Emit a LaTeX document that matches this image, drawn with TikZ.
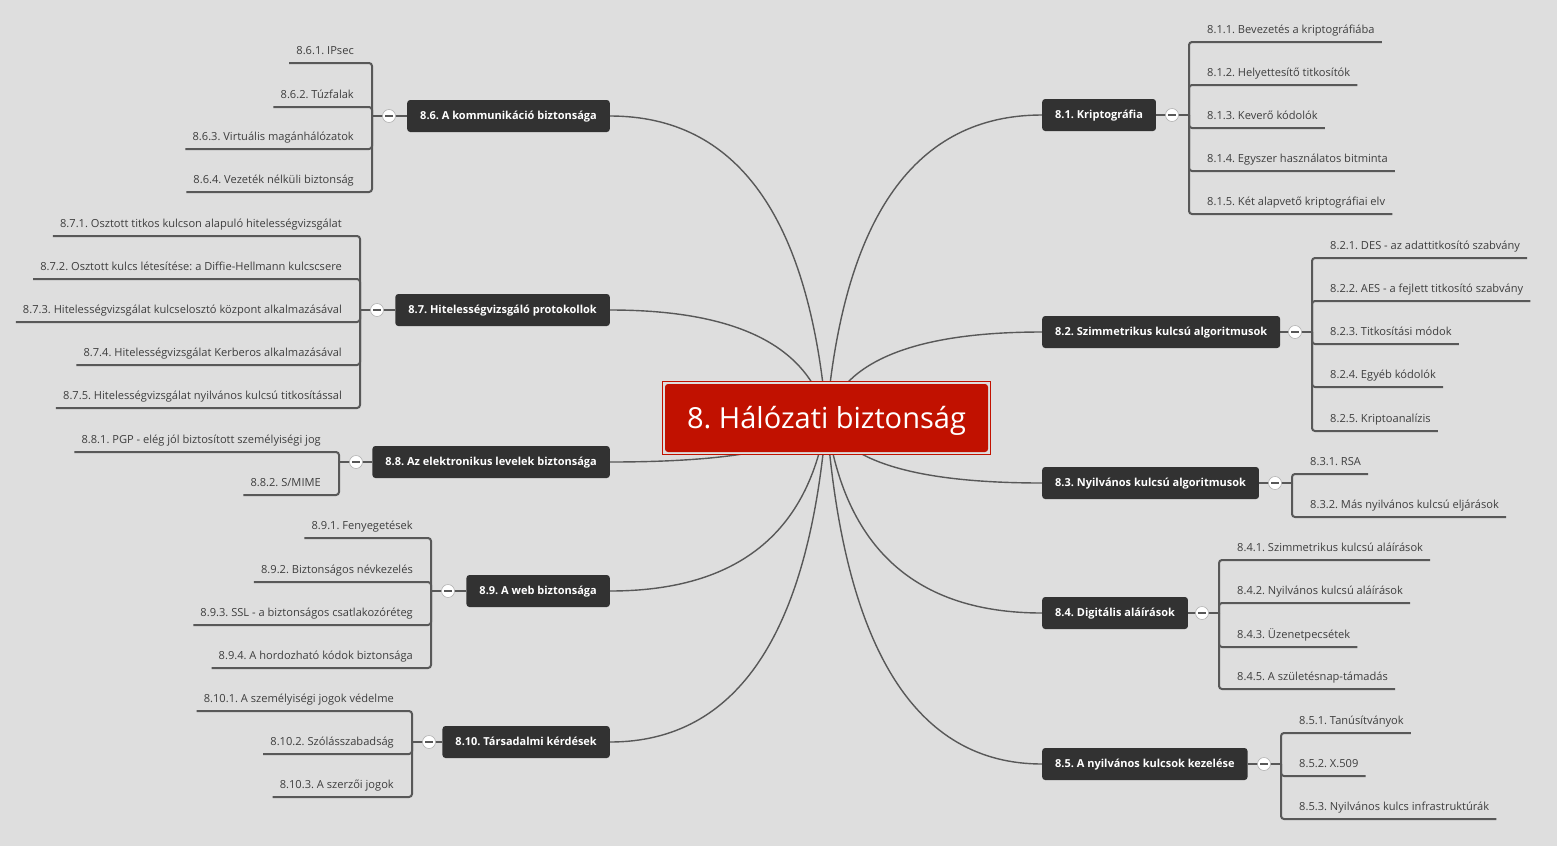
\documentclass[tikz,border=0pt]{standalone}
\usepackage{fontspec}
\setmainfont{Open Sans}
\usetikzlibrary{calc,backgrounds}
\frenchspacing
\definecolor{bg}{RGB}{222,222,222}
\definecolor{boxc}{RGB}{50,50,50}
\definecolor{linec}{RGB}{88,88,88}
\definecolor{leaftext}{RGB}{62,62,62}
\definecolor{redc}{RGB}{193,17,0}
\tikzset{
  branch/.style={fill=boxc, rounded corners=3pt, text=white, inner xsep=13pt, inner ysep=0pt,
    minimum height=32pt, text height=7.9pt, text depth=0pt,
    font=\frenchspacing\bfseries\fontsize{11.0}{13}\selectfont},
  leaf/.style={inner sep=0pt, text=leaftext, font=\frenchspacing\fontsize{11.1}{13}\selectfont},
  bracketline/.style={draw=linec, line width=2pt, rounded corners=3pt},
  stem/.style={draw=linec, line width=2.6pt},
  curveline/.style={draw=linec, line width=1.4pt},
  toggle/.style={circle, fill=white, draw=gray!60, line width=0.6pt, minimum size=13pt, inner sep=0pt,
    path picture={\draw[linec, line width=1.4pt]
      ([xshift=-3.6pt]path picture bounding box.center) -- ([xshift=3.6pt]path picture bounding box.center);}},
  centralbox/.style={fill=redc, rounded corners=3pt, text=white, minimum width=323pt, minimum height=68pt,
    inner sep=0pt, text height=21pt, text depth=0pt, font=\frenchspacing\fontsize{29}{34}\selectfont},
  centralframe/.style={draw=redc, line width=1pt, fill=bg, minimum width=328pt, minimum height=73pt, inner sep=0pt},
}
\newcommand\bcurve[2]{%
  \coordinate (bq) at ($(c.center)!0.12!(#1.#2)$);
  \coordinate (bQ) at (bq |- #1.#2);
  \draw[curveline] (#1.#2) .. controls ($(#1.#2)!0.6667!(bQ)$) and ($(c.center)!0.6667!(bQ)$) .. (c.center);}
\newcommand\branchR[4]{%
  \node[branch, anchor=west] (b#1) at (1042,#2) {#4};
  \coordinate (h#1) at (#3,#2);
  \begin{scope}[on background layer]
    \draw[stem] (b#1.east) -- (h#1);
    \bcurve{b#1}{west}
  \end{scope}
  \node[toggle] (t#1) at (#3-17,#2) {};}
\newcommand\branchL[4]{%
  \node[branch, anchor=east] (b#1) at (610,#2) {#4};
  \coordinate (h#1) at (#3,#2);
  \begin{scope}[on background layer]
    \draw[stem] (b#1.west) -- (h#1);
    \bcurve{b#1}{east}
  \end{scope}
  \node[toggle] (t#1) at (#3+17,#2) {};}
\newcommand\leafR[5]{%
  \node[leaf, anchor=base west] (#3) at (#2+18,#4-9) {#5};
  \begin{scope}[on background layer]
    \draw[bracketline] (#1) |- ([shift={(7pt,-9pt)}]#3.base east);
  \end{scope}}
\newcommand\leafL[5]{%
  \node[leaf, anchor=base east] (#3) at (#2-18,#4-9) {#5};
  \begin{scope}[on background layer]
    \draw[bracketline] (#1) |- ([shift={(-7pt,-9pt)}]#3.base west);
  \end{scope}}
\begin{document}
\begin{tikzpicture}[x=1pt,y=-1pt]
\useasboundingbox (0,0) rectangle (1557,846);
\begin{scope}[on background layer]
  \fill[bg] (0,0) rectangle (1557,846);
\end{scope}
% central topic
\node[centralframe] (cf) at (826.5,418) {};
\node[centralbox] (c) at (826.5,418) {8. Hálózati biztonság};

% right side
\branchR{81}{115}{1189}{8.1. Kriptográfia}
\leafR{h81}{1189}{l811}{42}{8.1.1. Bevezetés a kriptográfiába}
\leafR{h81}{1189}{l812}{85}{8.1.2. Helyettesítő titkosítók}
\leafR{h81}{1189}{l813}{128}{8.1.3. Keverő kódolók}
\leafR{h81}{1189}{l814}{171}{8.1.4. Egyszer használatos bitminta}
\leafR{h81}{1189}{l815}{214}{8.1.5. Két alapvető kriptográfiai elv}

\branchR{82}{332}{1312}{8.2. Szimmetrikus kulcsú algoritmusok}
\leafR{h82}{1312}{l821}{258}{8.2.1. DES - az adattitkosító szabvány}
\leafR{h82}{1312}{l822}{301}{8.2.2. AES - a fejlett titkosító szabvány}
\leafR{h82}{1312}{l823}{344}{8.2.3. Titkosítási módok}
\leafR{h82}{1312}{l824}{387}{8.2.4. Egyéb kódolók}
\leafR{h82}{1312}{l825}{431}{8.2.5. Kriptoanalízis}

\branchR{83}{483}{1292}{8.3. Nyilvános kulcsú algoritmusok}
\leafR{h83}{1292}{l831}{474}{8.3.1. RSA}
\leafR{h83}{1292}{l832}{517}{8.3.2. Más nyilvános kulcsú eljárások}

\branchR{84}{613}{1219}{8.4. Digitális aláírások}
\leafR{h84}{1219}{l841}{560}{8.4.1. Szimmetrikus kulcsú aláírások}
\leafR{h84}{1219}{l842}{603}{8.4.2. Nyilvános kulcsú aláírások}
\leafR{h84}{1219}{l843}{647}{8.4.3. Üzenetpecsétek}
\leafR{h84}{1219}{l845}{689}{8.4.5. A születésnap-támadás}

\branchR{85}{764}{1281}{8.5. A nyilvános kulcsok kezelése}
\leafR{h85}{1281}{l851}{733}{8.5.1. Tanúsítványok}
\leafR{h85}{1281}{l852}{776}{8.5.2. X.509}
\leafR{h85}{1281}{l853}{819}{8.5.3. Nyilvános kulcs infrastruktúrák}

% left side
\branchL{86}{116}{372}{8.6. A kommunikáció biztonsága}
\leafL{h86}{372}{l861}{63}{8.6.1. IPsec}
\leafL{h86}{372}{l862}{107}{8.6.2. Túzfalak}
\leafL{h86}{372}{l863}{149}{8.6.3. Virtuális magánhálózatok}
\leafL{h86}{372}{l864}{192}{8.6.4. Vezeték nélküli biztonság}

\branchL{87}{310}{360}{8.7. Hitelességvizsgáló protokollok}
\leafL{h87}{360}{l871}{236}{8.7.1. Osztott titkos kulcson alapuló hitelességvizsgálat}
\leafL{h87}{360}{l872}{279}{8.7.2. Osztott kulcs létesítése: a Diffie-Hellmann kulcscsere}
\leafL{h87}{360}{l873}{322}{8.7.3. Hitelességvizsgálat kulcselosztó központ alkalmazásával}
\leafL{h87}{360}{l874}{365}{8.7.4. Hitelességvizsgálat Kerberos alkalmazásával}
\leafL{h87}{360}{l875}{408}{8.7.5. Hitelességvizsgálat nyilvános kulcsú titkosítással}

\branchL{88}{462}{339}{8.8. Az elektronikus levelek biztonsága}
\leafL{h88}{339}{l881}{452}{8.8.1. PGP - elég jól biztosított személyiségi jog}
\leafL{h88}{339}{l882}{495}{8.8.2. S/MIME}

\branchL{89}{591}{431}{8.9. A web biztonsága}
\leafL{h89}{431}{l891}{538}{8.9.1. Fenyegetések}
\leafL{h89}{431}{l892}{582}{8.9.2. Biztonságos névkezelés}
\leafL{h89}{431}{l893}{625}{8.9.3. SSL - a biztonságos csatlakozóréteg}
\leafL{h89}{431}{l894}{668}{8.9.4. A hordozható kódok biztonsága}

\branchL{810}{742}{412}{8.10. Társadalmi kérdések}
\leafL{h810}{412}{l8101}{711}{8.10.1. A személyiségi jogok védelme}
\leafL{h810}{412}{l8102}{754}{8.10.2. Szólásszabadság}
\leafL{h810}{412}{l8103}{797}{8.10.3. A szerzői jogok}
\end{tikzpicture}
\end{document}
